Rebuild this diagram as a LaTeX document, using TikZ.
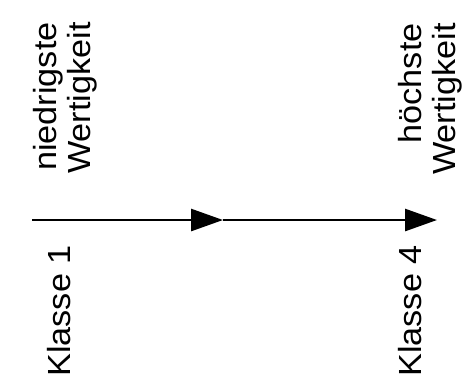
\documentclass[tikz,border=0pt]{standalone}
\usepackage{fontspec}
\setmainfont{Liberation Sans}
\newfontfamily\lblfont[FakeStretch=1.07]{Liberation Sans}
\usetikzlibrary{arrows.meta}
\begin{document}
\begin{tikzpicture}
			[x=0.5pt, y=-0.5pt, line width=1.35pt,
			lbl/.style={rotate=90, inner sep=0pt, align=right, font=\lblfont\fontsize{16}{17}\selectfont},
			tip/.style={-{Triangle[length=16pt, width=11pt]}}]
			\useasboundingbox (0,0) rectangle (474,382);
			\node[lbl, anchor=north east] (lo) at (32,21) {niedrigste\\Wertigkeit};
			\node[lbl, anchor=north east] (hi) at (397,22) {höchste\\Wertigkeit};
			\node[lbl, anchor=north east] (k1) at (46,244) {Klasse 1};
			\node[lbl, anchor=north east] (k4) at (397,244) {Klasse 4};
			\coordinate (a) at (32,220);
			\coordinate (b) at (223,220);
			\coordinate (c) at (437,220);
			\draw[tip] (a) -- (b);
			\draw[tip] (b) -- (c);
			\end{tikzpicture}
\end{document}
